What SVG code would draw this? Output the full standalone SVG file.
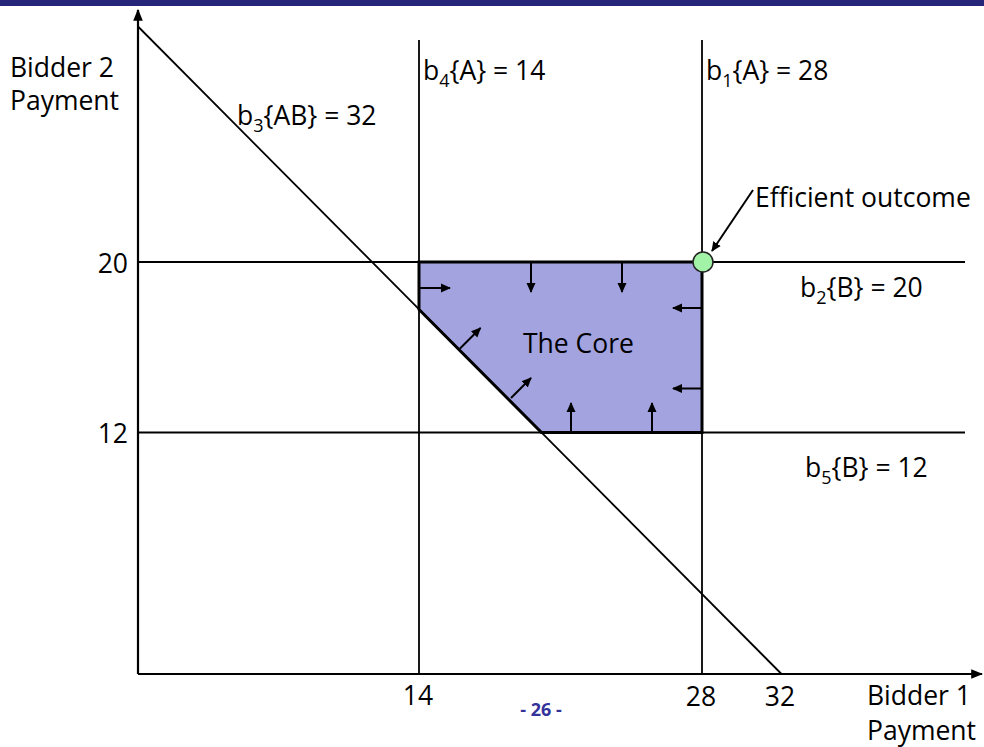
<svg xmlns="http://www.w3.org/2000/svg" width="984" height="747" viewBox="0 0 984 747">
<style>
text{font-family:"Open Sans","Liberation Sans",sans-serif;font-size:26.5px;fill:#000}
.sub{font-size:18px}
.thin{stroke:#000;stroke-width:1.8;fill:none}
.ax{stroke:#000;stroke-width:2.2;fill:none}
.arr{stroke:#000;stroke-width:2;fill:none;marker-end:url(#ah)}
.pg{font-family:"Open Sans","Liberation Sans",sans-serif;font-size:18px;font-weight:bold;fill:#33339a}
</style>
<defs>
<marker id="ah" viewBox="0 0 10 10" refX="9" refY="5" markerWidth="10" markerHeight="10" markerUnits="userSpaceOnUse" orient="auto">
<path d="M0,0.5 L10,5 L0,9.5 Z" fill="#000"/>
</marker>
<marker id="axh" viewBox="0 0 10 10" refX="9" refY="5" markerWidth="12" markerHeight="12" markerUnits="userSpaceOnUse" orient="auto">
<path d="M0,1 L10,5 L0,9 Z" fill="#000"/>
</marker>
</defs>
<rect x="0" y="0" width="984" height="6" fill="#25257a"/>
<g id="core">
<polygon points="419,262 702,262 702,432.5 541.5,432.5 419,309.5" fill="#a3a3e0" stroke="#000" stroke-width="3"/>
<text x="523" y="353">The Core</text>
</g>
<g id="connectors">
<line class="thin" x1="419" y1="40" x2="419" y2="674"/>
<line class="thin" x1="702" y1="40" x2="702" y2="674"/>
<line class="thin" x1="138" y1="262" x2="965" y2="262"/>
<line class="thin" x1="138" y1="432.5" x2="965" y2="432.5"/>
<line class="thin" x1="138" y1="26.5" x2="781.5" y2="674"/>
<line class="ax" x1="138" y1="674" x2="138" y2="10" marker-end="url(#axh)"/>
<line class="ax" x1="138" y1="674" x2="982" y2="674" marker-end="url(#axh)"/>
<line class="arr" x1="420" y1="288" x2="450" y2="288"/>
<line class="arr" x1="531" y1="263" x2="531" y2="292"/>
<line class="arr" x1="622" y1="263" x2="622" y2="292"/>
<line class="arr" x1="701" y1="308" x2="673" y2="308"/>
<line class="arr" x1="701" y1="388.5" x2="673" y2="388.5"/>
<line class="arr" x1="571" y1="432" x2="571" y2="403"/>
<line class="arr" x1="652" y1="432" x2="652" y2="403"/>
<line class="arr" x1="460" y1="348.5" x2="480.5" y2="328"/>
<line class="arr" x1="511" y1="398" x2="531" y2="378"/>
<line class="arr" x1="753" y1="190" x2="712" y2="251"/>
</g>
<g id="efficient">
<circle cx="703" cy="262" r="10" fill="#a2f2a8" stroke="#222" stroke-width="1.5"/>
<text x="755" y="207">Efficient outcome</text>
</g>
<g id="labels">
<text x="10" y="77">Bidder 2</text>
<text x="10" y="110">Payment</text>
<text x="423" y="80">b<tspan class="sub" dy="7">4</tspan><tspan dy="-7">{A} = 14</tspan></text>
<text x="706" y="80">b<tspan class="sub" dy="7">1</tspan><tspan dy="-7">{A} = 28</tspan></text>
<text x="237" y="125">b<tspan class="sub" dy="7">3</tspan><tspan dy="-7">{AB} = 32</tspan></text>
<text x="800" y="297">b<tspan class="sub" dy="7">2</tspan><tspan dy="-7">{B} = 20</tspan></text>
<text x="805" y="477">b<tspan class="sub" dy="7">5</tspan><tspan dy="-7">{B} = 12</tspan></text>
<text x="128" y="273" text-anchor="end">20</text>
<text x="128" y="443" text-anchor="end">12</text>
<text x="418" y="705" text-anchor="middle">14</text>
<text x="701" y="706" text-anchor="middle">28</text>
<text x="780" y="706" text-anchor="middle">32</text>
<text x="867" y="705">Bidder 1</text>
<text x="867" y="740">Payment</text>
<text class="pg" x="541" y="716" text-anchor="middle">- 26 -</text>
</g>
</svg>
